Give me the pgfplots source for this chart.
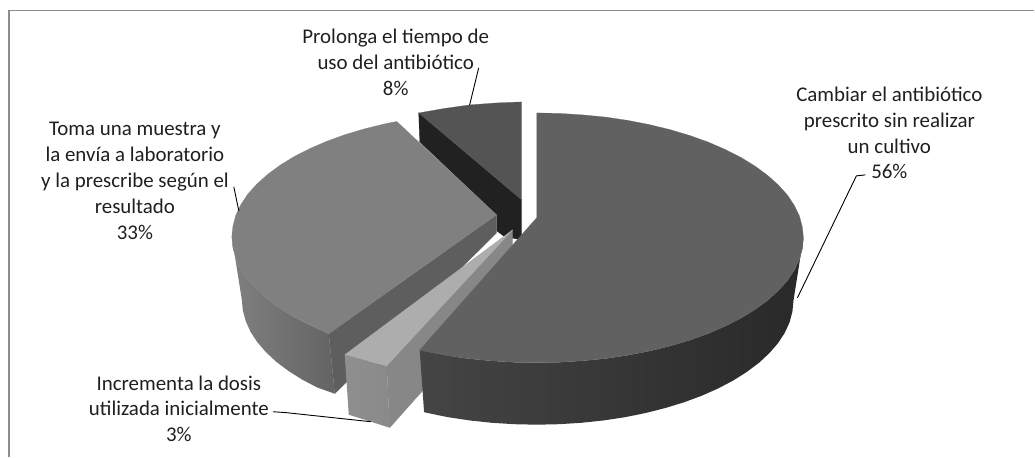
\documentclass[border=0pt]{standalone}
\usepackage{fontspec}
\setmainfont{Carlito}
\usepackage{pgfplots}
\pgfplotsset{compat=1.18}
\tikzset{
  lab/.style={align=center, anchor=center, inner sep=0pt, text=black!88, font=\fontsize{21}{26}\selectfont},
  lead/.style={black, line width=0.9bp},
  face/.style={draw=#1, fill=#1, line width=0.2bp},
}
\begin{document}
\begin{tikzpicture}
\begin{axis}[
  scale only axis, width=1035bp, height=457bp,
  xmin=0, xmax=1035, ymin=0, ymax=457, y dir=reverse,
  axis lines=none, clip=false,
]
% frame
\addplot[color=black!45, line width=1.5bp] coordinates {(9,457) (9,10.5) (1035,10.5)};

% 8% slice: wall, then top
\addplot[face={black!87}] coordinates {(419,113) (522,200) (522,240) (505,237) (497,231) (497,215) (420,142)} -- cycle;
\addplot[face={black!67}] coordinates {(419,113) (445,108.5) (470,105) (497,103) (522,102) (522,200)} -- cycle;

% 33% slice: inner wall, outer side, top
\addplot[face={black!63}] coordinates {(497,215) (329,334) (335,394) (497,233)} -- cycle;
\addplot[draw=none, left color=black!50, middle color=black!55, right color=black!61] coordinates {(232,237) (233.1,247.9) (236,258.7) (241.1,269.4) (248,279.8) (257.1,289.9) (267.8,299.5) (280.3,308.7) (294.5,317.4) (310.2,325.4) (329,334) (335,394) (317.3,387.7) (302.1,379.7) (288.5,371.1) (276.4,362) (266.1,352.4) (257.5,342.4) (250.7,332.1) (246,321.5) (243,310.8) (242,300)} -- cycle;
\addplot[face={black!50}] coordinates {(397,121.5) (386.1,123.7) (365.5,128.7) (345.7,134.6) (327.4,141.2) (310.2,148.6) (294.5,156.6) (280.3,165.3) (267.8,174.5) (257.1,184.1) (248,194.2) (241.1,204.6) (236,215.3) (233.1,226.1) (232,237) (233.1,247.9) (236,258.7) (241.1,269.4) (248,279.8) (257.1,289.9) (267.8,299.5) (280.3,308.7) (294.5,317.4) (310.2,325.4) (329,334) (497,215)} -- cycle;

% 3% slice: right wall, front wall, top
\addplot[face={black!47}] coordinates {(387,366) (513,230) (513,290) (390,428)} -- cycle;
\addplot[draw=none, left color=black!44, right color=black!46] coordinates {(345,355) (387,366) (390,428) (349,415)} -- cycle;
\addplot[face={black!32}] coordinates {(345,355) (387,366) (513,230)} -- cycle;

% 56% slice: outer side, top
\addplot[draw=none, left color=black!73, middle color=black!83, right color=black!84] coordinates {(804,238) (802.9,248.9) (800,259.8) (794.9,270.4) (788,280.8) (778.9,290.9) (768.2,300.5) (755.7,309.7) (741.5,318.4) (725.8,326.4) (708.7,333.8) (690.3,340.4) (670.5,346.3) (649.9,351.3) (628.3,355.5) (606.2,358.8) (583.5,361) (560.2,362.5) (537,363) (513.8,362.5) (490.5,361) (467.8,358.8) (445.7,355.5) (432.7,353) (420,350.4) (424.4,412.5) (436.6,415.1) (449.1,417.6) (470.5,420.8) (492.3,423.1) (514.6,424.5) (537,425) (559.4,424.5) (581.7,423.1) (603.5,420.8) (624.9,417.6) (645.6,413.4) (665.5,408.4) (684.4,402.6) (702.3,396) (718.7,388.7) (733.9,380.7) (747.5,372.1) (759.6,363) (769.9,353.4) (778.6,343.4) (785.3,333.1) (790.1,322.6) (793,311.8) (794,301)} -- cycle;
\addplot[face={black!62}] coordinates {(537,113) (560.2,113.5) (583.5,115) (606.2,117.2) (628.3,120.5) (649.9,124.7) (670.5,129.7) (690.3,135.6) (708.7,142.2) (725.8,149.6) (741.5,157.6) (755.7,166.3) (768.2,175.5) (778.9,185.1) (788,195.2) (794.9,205.6) (800,216.2) (802.9,227.1) (804,238) (802.9,248.9) (800,259.8) (794.9,270.4) (788,280.8) (778.9,290.9) (768.2,300.5) (755.7,309.7) (741.5,318.4) (725.8,326.4) (708.7,333.8) (690.3,340.4) (670.5,346.3) (649.9,351.3) (628.3,355.5) (606.2,358.8) (583.5,361) (560.2,362.5) (537,363) (513.8,362.5) (490.5,361) (467.8,358.8) (445.7,355.5) (432.7,353) (420,350.4) (537,218)} -- cycle;

% leader lines
\addplot[lead] coordinates {(866,175) (857,176) (798,298)};
\addplot[lead] coordinates {(470,105) (479,68)};
\addplot[lead] coordinates {(239,211) (234,187)};
\addplot[lead] coordinates {(273,412) (287,413) (371,422)};

% labels
\node[lab] at (axis cs:396,62) {Prolonga el tiempo de\\uso del antibiótico\\8\%};
\node[lab] at (axis cs:135,181) {Toma una muestra y\\la envía a laboratorio\\y la prescribe según el\\resultado\\33\%};
\node[lab] at (axis cs:890,133) {Cambiar el antibiótico\\prescrito sin realizar\\un cultivo\\56\%};
\node[lab] at (axis cs:179,409) {Incrementa la dosis\\utilizada inicialmente\\3\%};
\path (axis cs:0,0) (axis cs:1035,457);
\end{axis}
\end{tikzpicture}
\end{document}
